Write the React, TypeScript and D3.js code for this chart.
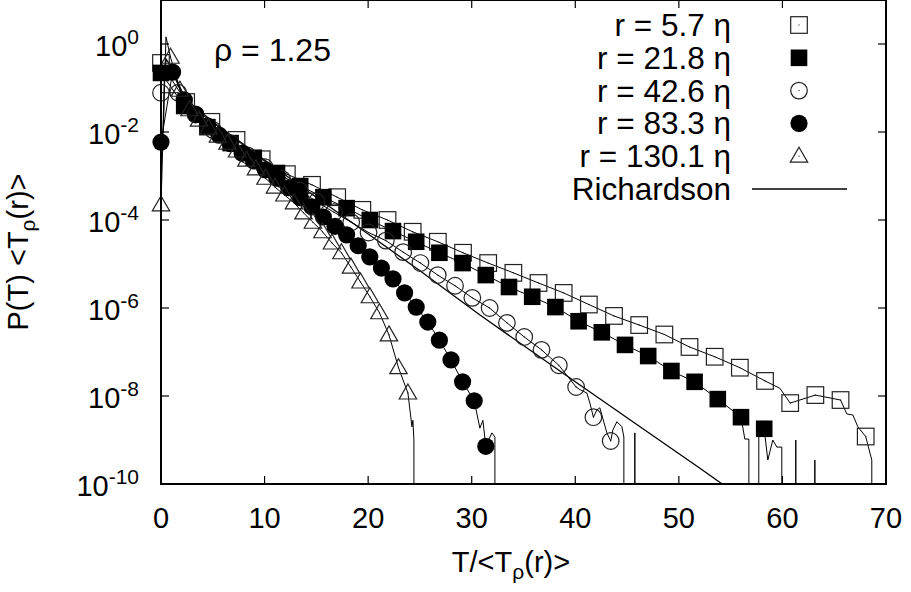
import React from "react";
import * as d3 from "d3";

// marker data (T / <T_rho(r)>, P(T) <T_rho(r)>)
const osT = [0, 2.43, 4.86, 7.29, 9.72, 12.15, 14.58, 17.01, 19.44, 21.87, 24.3, 26.73, 29.16, 31.59, 34.02, 36.45, 38.88, 41.31, 43.74, 46.17, 48.6, 51.03, 53.46, 55.89, 58.32, 60.75, 63.18, 65.61, 68.04];
const osP = [0.37, 0.048, 0.017, 6.6e-3, 2.4e-3, 1.1e-3, 6.3e-4, 3.3e-4, 1.7e-4, 1.0e-4, 5.4e-5, 3.2e-5, 1.8e-5, 1.05e-5, 6.3e-6, 3.7e-6, 2.2e-6, 1.2e-6, 6.6e-7, 4.1e-7, 2.5e-7, 1.3e-7, 7.8e-8, 4.4e-8, 2.2e-8, 6.9e-9, 1.05e-8, 8.1e-9, 1.2e-9];
const osTailT = [59.75, 66.22, 66.8, 67.28, 68.63, 68.73];
const osTailP = [1.5e-8, 3.9e-9, 3.7e-9, 2.0e-9, 3.5e-10, 0];

const fsT = [0, 2.24, 4.48, 6.72, 8.96, 11.2, 13.44, 15.68, 17.92, 20.16, 22.4, 24.64, 26.88, 29.12, 31.36, 33.6, 35.84, 38.08, 40.32, 42.56, 44.8, 47.04, 49.28, 51.52, 53.76, 56.0, 58.24];
const fsP = [0.22, 0.039, 0.0129, 5.6e-3, 2.6e-3, 1.17e-3, 5.9e-4, 3.3e-4, 1.86e-4, 1.0e-4, 5.6e-5, 3.2e-5, 1.8e-5, 1.05e-5, 5.6e-6, 3.0e-6, 1.8e-6, 1.05e-6, 5.0e-7, 2.8e-7, 1.45e-7, 8.1e-8, 3.7e-8, 2.1e-8, 8.5e-9, 3.3e-9, 1.8e-9];
const fsTailT = [56.37, 56.76, 57.14, 57.72, 58.59, 59.07, 59.46, 59.94, 60.33, 60.91, 61.29, 61.68, 62.74, 63.13, 63.51];
const fsTailP = [1.05e-9, 1.05e-9, 0, 1.8e-9, 3.5e-10, 1.0e-9, 6.9e-10, 6.9e-10, 0, 0, 1.0e-9, 0, 0, 3.5e-10, 0];

const ocT = [0, 1.67, 3.34, 5.01, 6.68, 8.35, 10.02, 11.69, 13.36, 15.03, 16.7, 18.37, 20.04, 21.71, 23.38, 25.05, 26.72, 28.39, 30.06, 31.73, 33.4, 35.07, 36.74, 38.41, 40.08, 41.75, 43.42];
const ocP = [0.078, 0.078, 0.025, 0.0112, 5.6e-3, 2.95e-3, 1.58e-3, 8.5e-4, 4.7e-4, 2.6e-4, 1.5e-4, 8.9e-5, 5.2e-5, 3.4e-5, 1.86e-5, 1.05e-5, 5.6e-6, 3.2e-6, 1.7e-6, 1.0e-6, 4.6e-7, 2.2e-7, 1.12e-7, 5.0e-8, 1.6e-8, 3.3e-9, 9.5e-10];
const ocTailT = [40.44, 41.12, 41.41, 42.08, 42.37, 43.05, 43.63, 44.02, 44.5, 44.69, 44.88, 45.37, 45.75, 46.14];
const ocTailP = [1.4e-8, 1.17e-8, 6.9e-9, 4.8e-9, 5.4e-9, 1.45e-9, 1.7e-9, 2.6e-9, 2.0e-9, 1.17e-9, 0, 0, 1.45e-9, 0];

const fcT = [0, 1.12, 2.24, 3.36, 4.48, 5.6, 6.72, 7.84, 8.96, 10.08, 11.2, 12.32, 13.44, 14.56, 15.68, 16.8, 17.92, 19.04, 20.16, 21.28, 22.4, 23.52, 24.64, 25.76, 26.88, 28.0, 29.12, 30.24, 31.36];
const fcP = [5.9e-3, 0.23, 0.054, 0.025, 0.0138, 8.5e-3, 5.4e-3, 3.3e-3, 2.2e-3, 1.38e-3, 8.9e-4, 5.4e-4, 3.2e-4, 2.0e-4, 1.17e-4, 7.2e-5, 4.6e-5, 2.6e-5, 1.45e-5, 8.1e-6, 4.6e-6, 2.2e-6, 1.05e-6, 4.8e-7, 1.86e-7, 6.6e-8, 2.1e-8, 7.8e-9, 7.2e-10];
const fcTailT = [30.79, 31.08, 31.76, 31.95, 32.24, 32.43];
const fcTailP = [1.86e-9, 2.8e-9, 1.17e-9, 1.45e-9, 1.17e-9, 0];

const trT = [0, 0.92, 1.83, 2.75, 3.67, 4.59, 5.5, 6.42, 7.34, 8.25, 9.17, 10.09, 11.0, 11.92, 12.84, 13.76, 14.67, 15.59, 16.51, 17.42, 18.34, 19.26, 20.17, 21.09, 22.01, 22.93, 23.84];
const trP = [2.2e-4, 0.5, 0.089, 0.032, 0.0186, 0.0123, 8.1e-3, 5.6e-3, 3.7e-3, 2.3e-3, 1.45e-3, 8.9e-4, 5.6e-4, 3.7e-4, 2.45e-4, 1.45e-4, 8.9e-5, 5.4e-5, 3.0e-5, 1.8e-5, 8.5e-6, 3.9e-6, 1.8e-6, 7.8e-7, 2.45e-7, 4.4e-8, 1.17e-8];
const trTailT = [0.48, 24.23, 24.32, 24.42, 24.52];
const trTailP = [1.45, 2.0e-9, 2.8e-9, 1.0e-9, 0];

const richT = [0.2, 0.35, 0.5, 1, 2, 3, 5, 8, 10, 14.4, 20, 25, 30.8, 35, 40, 45, 52, 56];
const richP = [0.01, 0.25, 0.45, 0.3, 0.085, 0.042, 0.017, 5.2e-3, 2.3e-3, 4.1e-4, 4.8e-5, 7.0e-6, 6.9e-7, 1.4e-7, 2.1e-8, 3.2e-9, 2.3e-10, 5e-11];

const legendLabels = ["r = 5.7 \u03b7", "r = 21.8 \u03b7", "r = 42.6 \u03b7", "r = 83.3 \u03b7", "r = 130.1 \u03b7", "Richardson"];
const xTicks = [0, 10, 20, 30, 40, 50, 60, 70];
const yTickExps = [-10, -8, -6, -4, -2, 0];

const W = 911;
const H = 592;
const FONT = "'Liberation Sans', Arial, Helvetica, sans-serif";

const x = d3.scaleLinear().domain([0, 70]).range([161, 886]);
const y = d3.scaleLog().domain([1e-10, 10]).range([484, 0]);

const zip = (ts: number[], ps: number[]) => ts.map((t, i) => ({ t, p: ps[i] }));
const lineOf = (ts: number[], ps: number[], tt: number[], tp: number[]) =>
  zip(ts, ps).concat(zip(tt, tp)).sort((a, b) => a.t - b.t);

// zero probabilities fall far below the log axis and get clipped
const line = d3
  .line<{ t: number; p: number }>()
  .x((d) => x(d.t))
  .y((d) => (d.p > 0 ? y(d.p) : 20000));

type Kind = "os" | "fs" | "oc" | "fc" | "tr";

const Marker = ({ kind, cx, cy }: { kind: Kind; cx: number; cy: number }) => {
  const s = 8.3;
  const dot = <rect x={cx - 0.5} y={cy - 0.5} width={1} height={1} fill="#000" />;
  if (kind === "os")
    return (
      <g>
        <rect x={cx - s} y={cy - s} width={2 * s} height={2 * s} fill="none" stroke="#222" strokeWidth={1.2} />
        {dot}
      </g>
    );
  if (kind === "fs") return <rect x={cx - s} y={cy - s} width={2 * s} height={2 * s} fill="#000" />;
  if (kind === "oc")
    return (
      <g>
        <circle cx={cx} cy={cy} r={s} fill="none" stroke="#222" strokeWidth={1.2} />
        {dot}
      </g>
    );
  if (kind === "fc") return <circle cx={cx} cy={cy} r={s + 0.3} fill="#000" />;
  return (
    <g>
      <polygon
        points={`${cx},${cy - 9} ${cx + 8.7},${cy + 6} ${cx - 8.7},${cy + 6}`}
        fill="none"
        stroke="#222"
        strokeWidth={1.2}
      />
      {dot}
    </g>
  );
};

const series: { kind: Kind; t: number[]; p: number[]; tt: number[]; tp: number[] }[] = [
  { kind: "os", t: osT, p: osP, tt: osTailT, tp: osTailP },
  { kind: "fs", t: fsT, p: fsP, tt: fsTailT, tp: fsTailP },
  { kind: "oc", t: ocT, p: ocP, tt: ocTailT, tp: ocTailP },
  { kind: "fc", t: fcT, p: fcP, tt: fcTailT, tp: fcTailP },
  { kind: "tr", t: trT, p: trP, tt: trTailT, tp: trTailP },
];

export default function App() {
  const [x0, x1] = x.range();
  const [y0, y1] = y.range();
  return (
    <svg
      width={W}
      height={H}
      style={{ position: "absolute", left: 0, top: 0, background: "#fff" }}
      fontFamily={FONT}
    >
      <defs>
        <clipPath id="plot">
          <rect x={x0} y={y1} width={x1 - x0} height={y0 - y1} />
        </clipPath>
      </defs>

      {/* ticks */}
      {xTicks.map((t) => (
        <g key={"xt" + t}>
          <line x1={x(t)} x2={x(t)} y1={y0} y2={y0 - 8} stroke="#000" strokeWidth={1.2} />
          <line x1={x(t)} x2={x(t)} y1={y1} y2={y1 + 8} stroke="#000" strokeWidth={1.2} />
          <text x={x(t)} y={528} fontSize={29} textAnchor="middle">
            {t}
          </text>
        </g>
      ))}
      {yTickExps.map((e) => (
        <g key={"yt" + e}>
          <line x1={x0} x2={x0 + 8} y1={y(10 ** e)} y2={y(10 ** e)} stroke="#000" strokeWidth={1.2} />
          <line x1={x1} x2={x1 - 8} y1={y(10 ** e)} y2={y(10 ** e)} stroke="#000" strokeWidth={1.2} />
          <text x={139} y={y(10 ** e) + 12} fontSize={29} textAnchor="end">
            10
            <tspan fontSize={21} dy={-12}>
              {e}
            </tspan>
          </text>
        </g>
      ))}

      {/* data lines */}
      <g clipPath="url(#plot)" fill="none" stroke="#000" strokeWidth={1}>
        {series.map((s) => (
          <path key={"l" + s.kind} d={line(lineOf(s.t, s.p, s.tt, s.tp)) || ""} />
        ))}
        <path d={line(zip(richT, richP)) || ""} strokeWidth={1.3} />
      </g>

      {/* markers */}
      {series.map((s) => (
        <g key={"m" + s.kind}>
          {s.t.map((t, i) => (
            <Marker key={i} kind={s.kind} cx={x(t)} cy={y(s.p[i])} />
          ))}
        </g>
      ))}

      {/* border */}
      <rect x={x0} y={y1} width={x1 - x0} height={y0 - y1} fill="none" stroke="#000" strokeWidth={2} />

      {/* annotation */}
      <text x={214} y={61} fontSize={32}>
        {"\u03c1 = 1.25"}
      </text>

      {/* legend */}
      {legendLabels.map((lab, i) => {
        const ly = 25 + i * 32.8;
        return (
          <g key={"lg" + i}>
            <text x={731} y={ly + 11} fontSize={31.5} textAnchor="end">
              {lab}
            </text>
            {i < 5 ? (
              <Marker kind={series[i].kind} cx={799} cy={ly} />
            ) : (
              <line x1={752} x2={847} y1={ly} y2={ly} stroke="#000" strokeWidth={1.3} />
            )}
          </g>
        );
      })}

      {/* axis titles */}
      <text x={511} y={572} fontSize={29} textAnchor="middle">
        {"T/<T"}
        <tspan fontSize={21} dy={7}>
          {"\u03c1"}
        </tspan>
        <tspan dy={-7}>{"(r)>"}</tspan>
      </text>
      <text transform="translate(28,252) rotate(-90)" fontSize={29} textAnchor="middle">
        {"P(T) <T"}
        <tspan fontSize={21} dy={7}>
          {"\u03c1"}
        </tspan>
        <tspan dy={-7}>{"(r)>"}</tspan>
      </text>
    </svg>
  );
}
